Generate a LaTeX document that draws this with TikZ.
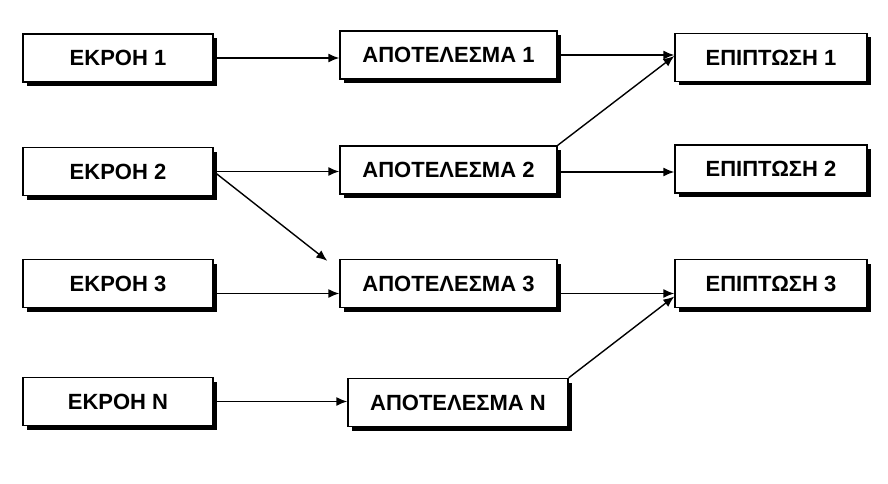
\documentclass[tikz,border=0pt]{standalone}
\usepackage{fontspec}
\setmainfont{Liberation Sans}
\usetikzlibrary{arrows.meta,shadows}
\begin{document}
\begin{tikzpicture}[x=1pt,y=-1pt,
  box/.style={draw=black, line width=1.4pt, fill=white, rectangle,
    minimum height=48pt, inner sep=0pt,
    font=\fontsize{22}{26}\selectfont\bfseries,
    drop shadow={shadow xshift=4pt, shadow yshift=-4pt, fill=black, opacity=1}},
  srcbox/.style={box, minimum width=190pt},
  resbox/.style={box, minimum width=217pt},
  impbox/.style={box, minimum width=192pt},
  conn/.style={line width=1.4pt, -{Latex[length=11pt,width=9pt]}}]
\useasboundingbox (0,0) rectangle (888,484);
\fill[white] (0,0) rectangle (888,484);
% sources
\node[srcbox] (e1) at (118,58) {ΕΚΡΟΗ 1};
\node[srcbox] (e2) at (118,171.5) {ΕΚΡΟΗ 2};
\node[srcbox] (e3) at (118,283.5) {ΕΚΡΟΗ 3};
\node[srcbox] (en) at (118,401.5) {ΕΚΡΟΗ N};
% results
\node[resbox] (a1) at (448.5,55) {ΑΠΟΤΕΛΕΣΜΑ 1};
\node[resbox] (a2) at (448.5,170) {ΑΠΟΤΕΛΕΣΜΑ 2};
\node[resbox] (a3) at (448.5,283.5) {ΑΠΟΤΕΛΕΣΜΑ 3};
\node[box, minimum width=220pt] (an) at (458,402.5) {ΑΠΟΤΕΛΕΣΜΑ N};
% impacts
\node[impbox] (p1) at (771,57.5) {ΕΠΙΠΤΩΣΗ 1};
\node[impbox] (p2) at (771,169) {ΕΠΙΠΤΩΣΗ 2};
\node[impbox] (p3) at (771,283.5) {ΕΠΙΠΤΩΣΗ 3};
% connectors
\draw[conn] (e1.east) -- (e1.east -| a1.west);
\draw[conn] (e2.east) -- (e2.east -| a2.west);
\draw[conn] (e2.east) -- ([xshift=-12pt,yshift=-2pt]a3.north west);
\draw[conn] ([yshift=-10pt]e3.east) -- ([yshift=-10pt]e3.east -| a3.west);
\draw[conn] (en.east) -- (en.east -| an.west);
\draw[conn] (a1.east) -- (a1.east -| p1.west);
\draw[conn] (a2.north east) -- ([yshift=1.5pt]p1.west);
\draw[conn] ([yshift=-2pt]a2.east) -- ([yshift=-2pt]a2.east -| p2.west);
\draw[conn] ([yshift=-10pt]a3.east) -- ([yshift=-10pt]a3.east -| p3.west);
\draw[conn] (an.north east) -- ([yshift=-13pt]p3.west);
\end{tikzpicture}
\end{document}
